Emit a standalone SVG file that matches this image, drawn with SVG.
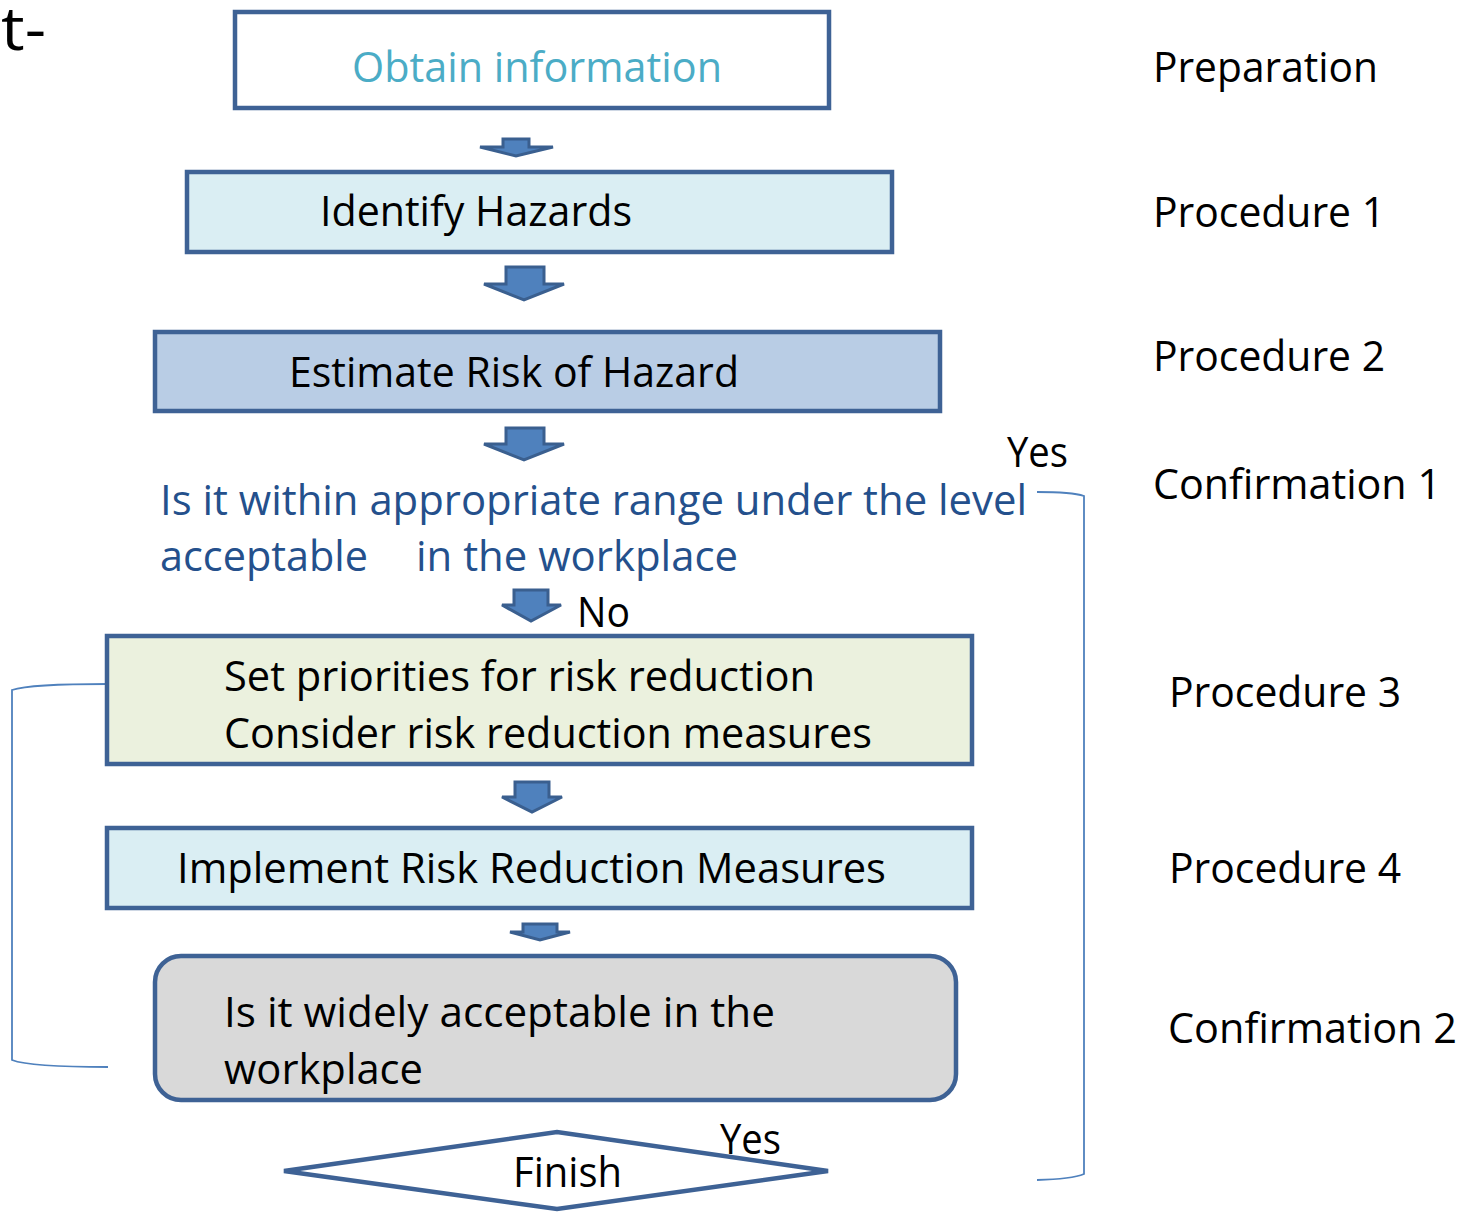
<svg xmlns="http://www.w3.org/2000/svg" width="1463" height="1212" viewBox="0 0 1463 1212">
<style>
text{font-family:"Open Sans","Noto Sans","Liberation Sans",sans-serif;font-size:42px;fill:#000}
.big{font-size:60px}
.box{stroke:#3E6295;stroke-width:4.5}
.arr{fill:#4F81BD;stroke:#3A5F8F;stroke-width:3;stroke-linejoin:miter}
.br{fill:none;stroke:#4F81BD;stroke-width:1.8}
.blue{fill:#24508C}
</style>
<rect width="1463" height="1212" fill="#fff"/>
<text class="big" x="1" y="50" textLength="45" lengthAdjust="spacingAndGlyphs">t-</text>
<g id="connectors">
<path class="arr" d="M503,139 H529 V147 H553 L516,156 L480,147 H503 Z"/>
<path class="arr" d="M506,267 H544 V284 H564 L524,300 L484,284 H506 Z"/>
<path class="arr" d="M506,428 H544 V444 H564 L524,460 L484,444 H506 Z"/>
<path class="arr" d="M514,590 H548 V605 H561 L531,621 L502,605 H514 Z"/>
<path class="arr" d="M515,782 H549 V797 H562 L532,812 L502,797 H515 Z"/>
<path class="arr" d="M523,924 H557 V932 H570 L540,940 L510,932 H523 Z"/>
<path class="br" d="M108,684 Q30,684 12,690 V1060 Q30,1067 108,1067"/>
<path class="br" d="M1037,492 Q1072,492 1084,496 V1174 Q1072,1179 1037,1180"/>
</g>
<g id="n-obtain">
<rect class="box" x="235" y="12" width="594" height="96" fill="#fff"/>
<text x="537" y="82" text-anchor="middle" style="fill:#4BACC6" textLength="370" lengthAdjust="spacingAndGlyphs">Obtain information</text>
</g>
<g id="n-identify">
<rect class="box" x="187" y="172" width="705" height="80" fill="#DAEEF3"/>
<text x="320" y="226" textLength="312" lengthAdjust="spacingAndGlyphs">Identify Hazards</text>
</g>
<g id="n-estimate">
<rect class="box" x="155" y="332" width="785" height="79" fill="#B9CDE5"/>
<text x="289" y="387" textLength="450" lengthAdjust="spacingAndGlyphs">Estimate Risk of Hazard</text>
</g>
<g id="n-question1">
<text class="blue" x="160" y="515" textLength="867" lengthAdjust="spacingAndGlyphs">Is it within appropriate range under the level</text>
<text class="blue" x="160" y="571" textLength="208" lengthAdjust="spacingAndGlyphs">acceptable</text>
<text class="blue" x="416" y="571" textLength="322" lengthAdjust="spacingAndGlyphs">in the workplace</text>
<text x="1007" y="467" textLength="61" lengthAdjust="spacingAndGlyphs">Yes</text>
<text x="577" y="627" textLength="53" lengthAdjust="spacingAndGlyphs">No</text>
</g>
<g id="n-priorities">
<rect class="box" x="107" y="636" width="865" height="128" fill="#EBF1DE"/>
<text x="224" y="691" textLength="591" lengthAdjust="spacingAndGlyphs">Set priorities for risk reduction</text>
<text x="224" y="748" textLength="648" lengthAdjust="spacingAndGlyphs">Consider risk reduction measures</text>
</g>
<g id="n-implement">
<rect class="box" x="107" y="828" width="865" height="80" fill="#DAEEF3"/>
<text x="177" y="883" textLength="709" lengthAdjust="spacingAndGlyphs">Implement Risk Reduction Measures</text>
</g>
<g id="n-question2">
<rect class="box" x="155" y="956" width="801" height="144" rx="26" fill="#D9D9D9"/>
<text x="224" y="1027" textLength="551" lengthAdjust="spacingAndGlyphs">Is it widely acceptable in the</text>
<text x="224" y="1084" textLength="199" lengthAdjust="spacingAndGlyphs">workplace</text>
</g>
<g id="n-finish">
<path class="box" d="M284,1171 L557,1132 L828,1171 L557,1209 Z" fill="#fff"/>
<text x="513" y="1187" textLength="109" lengthAdjust="spacingAndGlyphs">Finish</text>
<text x="720" y="1154" textLength="61" lengthAdjust="spacingAndGlyphs">Yes</text>
</g>
<g id="labels">
<text x="1153" y="82" textLength="225" lengthAdjust="spacingAndGlyphs">Preparation</text>
<text x="1153" y="227" textLength="232" lengthAdjust="spacingAndGlyphs">Procedure 1</text>
<text x="1153" y="371" textLength="232" lengthAdjust="spacingAndGlyphs">Procedure 2</text>
<text x="1153" y="499" textLength="288" lengthAdjust="spacingAndGlyphs">Confirmation 1</text>
<text x="1169" y="707" textLength="232" lengthAdjust="spacingAndGlyphs">Procedure 3</text>
<text x="1169" y="883" textLength="232" lengthAdjust="spacingAndGlyphs">Procedure 4</text>
<text x="1168" y="1043" textLength="289" lengthAdjust="spacingAndGlyphs">Confirmation 2</text>
</g>
</svg>
